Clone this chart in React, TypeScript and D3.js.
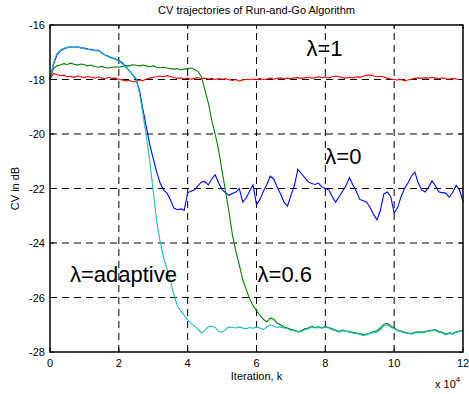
import * as d3 from 'd3';

const W = 469;
const H = 394;
const margin = { top: 25, right: 6, bottom: 42, left: 50 };

// iteration axis in units of 10^4, sampled every 0.1
const iterations = d3.range(121).map((i) => i / 10);

const xTicks = [0, 2, 4, 6, 8, 10, 12];
const yTicks = [-16, -18, -20, -22, -24, -26, -28];

// λ = 1
const cvLambda1 = [
  -18.0, -17.78, -17.82, -17.86, -17.84, -17.9, -17.88, -17.92, -17.87, -17.9,
  -17.93, -17.89, -17.92, -17.95, -17.9, -17.94, -17.97, -17.92, -17.96, -17.95,
  -17.99, -18.02, -18.05, -18.03, -18.08, -18.06, -18.02, -18.04, -17.98, -17.95,
  -17.92, -17.9, -17.87, -17.9, -17.86, -17.89, -17.93, -17.96, -17.94, -17.97,
  -17.95, -17.99, -17.96, -17.93, -17.97, -17.95, -17.98, -17.96, -18.0, -17.97,
  -17.99, -17.97, -18.01, -18.03, -18.0, -18.06, -18.02, -17.99, -18.01, -17.98,
  -18.0, -17.97, -18.0, -17.98, -17.95, -17.99, -17.96, -17.94, -17.97, -17.95,
  -17.97, -17.94, -17.93, -17.96, -17.94, -17.92, -17.95, -17.93, -17.9, -17.93,
  -17.91, -17.94, -17.9, -17.87, -17.9, -17.93, -17.95, -17.92, -17.94, -17.9,
  -17.92, -17.88, -17.85, -17.83, -17.87, -17.9, -17.88, -17.91, -17.95, -17.98,
  -18.0, -18.02, -18.0, -18.04, -18.02, -17.99, -17.96, -17.94, -17.96, -17.93,
  -17.95, -17.92, -17.95, -17.97, -17.94, -17.97, -17.99, -17.96, -17.98, -18.0,
  -17.99,
];

// λ = 0
const cvLambda0 = [
  -18.0, -17.45, -17.1, -16.95, -16.87, -16.83, -16.8, -16.82, -16.8, -16.84,
  -16.85, -16.88, -16.9, -16.92, -16.93, -17.02, -17.1, -17.15, -17.2, -17.25,
  -17.3, -17.38, -17.52, -17.67, -17.82, -18.0, -18.4, -19.1, -19.75, -20.4,
  -20.9, -21.4, -21.8, -22.05, -22.17, -22.42, -22.72, -22.78, -22.75, -22.8,
  -22.15, -22.1, -22.05, -21.9, -21.76, -21.75, -21.87, -21.65, -21.5, -21.8,
  -22.05, -22.15, -22.25, -22.18, -22.13, -22.0, -22.5, -22.35, -22.1, -21.87,
  -22.6, -22.4, -22.1, -21.85, -21.55, -21.65, -21.95, -22.2, -22.5, -22.65,
  -22.25, -21.9, -21.3, -21.45, -21.6, -21.75, -21.82, -21.85, -21.8, -21.95,
  -22.0, -22.05, -22.3, -22.5, -22.3, -22.1, -21.9, -21.6, -21.87, -22.1,
  -22.4, -22.45, -22.5, -22.7, -22.95, -23.15, -22.8, -22.2, -22.13, -22.3,
  -22.9, -22.7, -22.3, -22.0, -21.8, -21.55, -21.4, -21.8, -22.05, -22.13,
  -21.95, -21.72, -21.9, -22.13, -22.15, -22.17, -22.32, -22.15, -21.88, -22.05,
  -22.5,
];

// λ = 0.6
const cvLambda06 = [
  -18.0, -17.6, -17.5, -17.47, -17.42, -17.45, -17.4, -17.44, -17.47, -17.43,
  -17.46, -17.5, -17.47, -17.52, -17.55, -17.52, -17.56, -17.58, -17.55, -17.53,
  -17.55, -17.52, -17.49, -17.5, -17.46, -17.48, -17.5, -17.47, -17.5, -17.53,
  -17.5, -17.55, -17.57, -17.55, -17.58, -17.6, -17.62, -17.6, -17.65, -17.62,
  -17.6, -17.58, -17.63, -17.7, -17.9, -18.38, -18.86, -19.5, -20.0, -20.6,
  -21.35, -22.1, -22.85, -23.7, -24.3, -24.8, -25.35, -25.7, -26.05, -26.3,
  -26.48, -26.65, -26.8, -26.9, -26.75, -26.8, -26.94, -27.0, -27.08, -27.12,
  -27.17, -27.2, -27.25, -27.22, -27.15, -27.12, -27.06, -27.1, -27.08, -27.12,
  -27.06, -27.1, -27.15, -27.2, -27.25, -27.2, -27.23, -27.25, -27.28, -27.3,
  -27.32, -27.36, -27.34, -27.3, -27.25, -27.22, -27.12, -26.98, -26.95, -27.04,
  -27.12, -27.2, -27.23, -27.28, -27.3, -27.32, -27.28, -27.26, -27.27, -27.25,
  -27.22, -27.2, -27.18, -27.25, -27.28, -27.34, -27.3, -27.32, -27.26, -27.23,
  -27.2,
];

// λ adaptive
const cvAdaptive = [
  -18.0, -17.4, -17.05, -16.92, -16.85, -16.82, -16.8, -16.83, -16.81, -16.85,
  -16.87, -16.9, -16.92, -16.94, -16.95, -17.0, -17.1, -17.17, -17.22, -17.26,
  -17.32, -17.42, -17.55, -17.68, -17.82, -17.95, -18.5, -19.25, -20.1, -21.0,
  -22.1, -23.2, -23.95, -24.55, -24.95, -25.4, -25.9, -26.3, -26.5, -26.65,
  -26.82, -26.95, -27.05, -27.15, -27.3, -27.2, -27.08, -27.05, -27.1, -27.25,
  -27.27, -27.18, -27.08, -27.1, -27.12, -27.08, -27.12, -27.15, -27.1, -27.13,
  -27.08, -27.12, -27.17, -27.08, -27.0, -27.05, -27.1, -27.08, -27.12, -27.15,
  -27.2, -27.22, -27.27, -27.25, -27.18, -27.15, -27.08, -27.12, -27.1, -27.13,
  -27.08, -27.12, -27.18, -27.22, -27.27, -27.22, -27.25, -27.27, -27.3, -27.33,
  -27.35, -27.4, -27.37, -27.32, -27.28, -27.27, -27.18, -27.05, -27.0, -27.08,
  -27.15, -27.22, -27.25, -27.3, -27.32, -27.35, -27.3, -27.28, -27.3, -27.27,
  -27.25, -27.22, -27.2, -27.28, -27.3, -27.37, -27.32, -27.35, -27.28, -27.25,
  -27.22,
];

const series = [
  { name: 'lambda0', values: cvLambda0, color: '#0000ff' },
  { name: 'lambda06', values: cvLambda06, color: '#008000' },
  { name: 'lambda1', values: cvLambda1, color: '#ff0000' },
  { name: 'adaptive', values: cvAdaptive, color: '#14c0c0' },
];

const labels = [
  { text: 'λ=1', x: 7.45, y: -17.15 },
  { text: 'λ=0', x: 8.0, y: -21.1 },
  { text: 'λ=adaptive', x: 0.58, y: -25.42 },
  { text: 'λ=0.6', x: 6.03, y: -25.42 },
];

const font = 'Arial, "Liberation Sans", sans-serif';

export default function App() {
  const innerW = W - margin.left - margin.right;
  const innerH = H - margin.top - margin.bottom;

  const x = d3.scaleLinear().domain([0, 12]).range([margin.left, margin.left + innerW]);
  const y = d3.scaleLinear().domain([-28, -16]).range([margin.top + innerH, margin.top]);

  const line = d3
    .line<number>()
    .x((_, i) => x(iterations[i]))
    .y((d) => y(d));

  const x0 = x(0);
  const x1 = x(12);
  const y0 = y(-28);
  const y1 = y(-16);

  return (
    <svg
      width={W}
      height={H}
      style={{ position: 'absolute', left: 0, top: 0, background: '#fff' }}
      fontFamily={font}
    >
      <rect x={0} y={0} width={W} height={H} fill="#fff" />

      {/* grid */}
      {xTicks.slice(1, -1).map((t) => (
        <line key={'gx' + t} x1={x(t)} x2={x(t)} y1={y0} y2={y1} stroke="#000" strokeWidth={1} strokeDasharray="7,5" />
      ))}
      {yTicks.slice(1, -1).map((t) => (
        <line key={'gy' + t} x1={x0} x2={x1} y1={y(t)} y2={y(t)} stroke="#000" strokeWidth={1} strokeDasharray="7,5" />
      ))}

      {/* curves */}
      {series.map((s) => (
        <path key={s.name} d={line(s.values) ?? ''} fill="none" stroke={s.color} strokeWidth={1.1} />
      ))}

      {/* axes box */}
      <rect x={x0} y={y1} width={x1 - x0} height={y0 - y1} fill="none" stroke="#000" strokeWidth={1.5} />

      {/* ticks */}
      {xTicks.map((t) => (
        <g key={'xt' + t}>
          <line x1={x(t)} x2={x(t)} y1={y0} y2={y0 - 4} stroke="#000" />
          <line x1={x(t)} x2={x(t)} y1={y1} y2={y1 + 4} stroke="#000" />
          <text x={x(t)} y={y0 + 15} fontSize={11} textAnchor="middle" fill="#000">
            {t}
          </text>
        </g>
      ))}
      {yTicks.map((t) => (
        <g key={'yt' + t}>
          <line x1={x0} x2={x0 + 4} y1={y(t)} y2={y(t)} stroke="#000" />
          <line x1={x1} x2={x1 - 4} y1={y(t)} y2={y(t)} stroke="#000" />
          <text x={x0 - 5} y={y(t) + 4} fontSize={11} textAnchor="end" fill="#000">
            {t}
          </text>
        </g>
      ))}

      {/* titles */}
      <text x={(x0 + x1) / 2} y={14} fontSize={11} textAnchor="middle" fill="#000">
        CV trajectories of Run-and-Go Algorithm
      </text>
      <text x={(x0 + x1) / 2} y={380} fontSize={11} textAnchor="middle" fill="#000">
        Iteration, k
      </text>
      <text
        transform={`translate(19,${(y0 + y1) / 2}) rotate(-90)`}
        fontSize={11}
        textAnchor="middle"
        fill="#000"
      >
        CV in dB
      </text>
      <text x={435} y={388} fontSize={11} fill="#000">
        x 10
        <tspan dy={-6} fontSize={8}>
          4
        </tspan>
      </text>

      {/* curve annotations */}
      {labels.map((l) => (
        <text key={l.text} x={x(l.x)} y={y(l.y)} fontSize={22} fill="#000">
          {l.text}
        </text>
      ))}
    </svg>
  );
}
